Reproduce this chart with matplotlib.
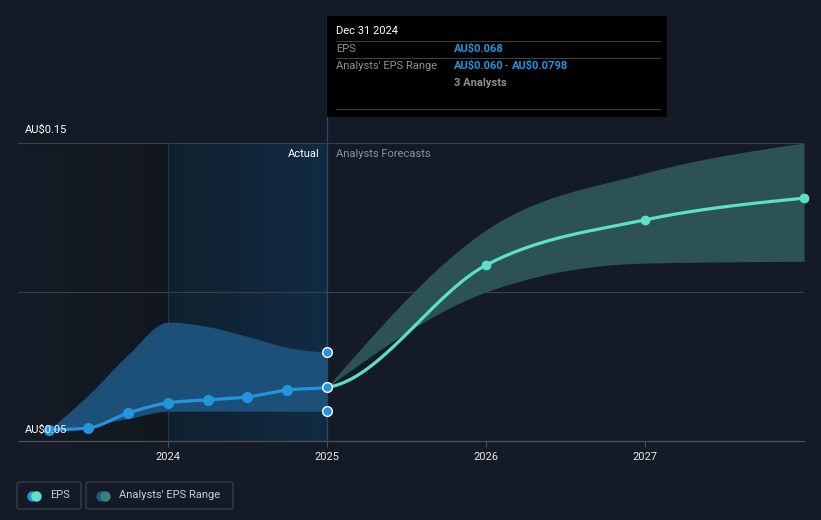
import numpy as np
import matplotlib.pyplot as plt
from matplotlib.colors import LinearSegmentedColormap
from matplotlib.patches import FancyBboxPatch, Rectangle

plt.rcParams['font.family'] = ['Roboto', 'DejaVu Sans']

# EPS history (quarter ends, decimal years) and analyst forecasts
hist_x = [2023.25, 2023.5, 2023.75, 2024.0, 2024.25, 2024.5, 2024.75, 2025.0]
hist_eps = [0.0537, 0.0544, 0.0594, 0.0628, 0.0638, 0.0648, 0.0671, 0.068]
hist_low = [0.0537, 0.0553, 0.0575, 0.0600, 0.0600, 0.0600, 0.0600, 0.0600]
hist_high = [0.0537, 0.0655, 0.0790, 0.0899, 0.0884, 0.0851, 0.0814, 0.0798]

fc_x = [2025.0, 2026.0, 2027.0, 2028.0]
fc_eps = [0.068, 0.109, 0.1242, 0.1315]
fc_low = [0.068, 0.100, 0.1097, 0.1103]
fc_high = [0.068, 0.1208, 0.1399, 0.150]

year_ticks = [2024, 2025, 2026, 2027]

BG = '#151b26'
BLUE = '#2394df'
TEAL = '#5ce0c8'
W, H = 821, 520


def monotone(x, y, n=60):
    # monotone cubic, like d3 curveMonotoneX
    x = np.asarray(x, float)
    y = np.asarray(y, float)
    h = np.diff(x)
    s = np.diff(y) / h
    m = np.zeros(len(x))
    for k in range(1, len(x) - 1):
        p = (s[k - 1] * h[k] + s[k] * h[k - 1]) / (h[k - 1] + h[k])
        m[k] = (np.sign(s[k - 1]) + np.sign(s[k])) * min(abs(s[k - 1]), abs(s[k]), 0.5 * abs(p))
    m[0] = (3 * s[0] - m[1]) / 2
    m[-1] = (3 * s[-1] - m[-2]) / 2
    xs, ys = [], []
    t = np.linspace(0, 1, n)
    for k in range(len(x) - 1):
        h00 = 2 * t**3 - 3 * t**2 + 1
        h10 = t**3 - 2 * t**2 + t
        h01 = -2 * t**3 + 3 * t**2
        h11 = t**3 - t**2
        xs.append(x[k] + t * h[k])
        ys.append(h00 * y[k] + h10 * h[k] * m[k] + h01 * y[k + 1] + h11 * h[k] * m[k + 1])
    return np.concatenate(xs), np.concatenate(ys)


fig = plt.figure(figsize=(8.21, 5.20), dpi=100)
fig.patch.set_facecolor(BG)
ax = fig.add_axes([18 / W, 1 - 441 / H, 786 / W, 298 / H])
ax.set_facecolor(BG)
x0, x1 = 2023.057, 2028.0
ax.set_xlim(x0, x1)
ax.set_ylim(0.05, 0.15)

# shaded backgrounds
grad = np.linspace(0, 1, 256).reshape(1, -1)
cm_left = LinearSegmentedColormap.from_list('l', [BG, '#12171f'])
ax.imshow(grad, cmap=cm_left, extent=[x0, 2024.0, 0.05, 0.15], aspect='auto', zorder=0)
cm_act = LinearSegmentedColormap.from_list('a', ['#10202f', '#122b42'])
ax.imshow(grad, cmap=cm_act, extent=[2024.0, 2025.0, 0.05, 0.15], aspect='auto', zorder=0)

# grid
for v in [0.10, 0.15]:
    ax.axhline(v, color='#3a404a', lw=0.8, zorder=1)
ax.axvline(2024.0, color='#1d3a55', lw=0.8, zorder=1)

# bands
hx, hlo = monotone(hist_x, hist_low)
_, hhi = monotone(hist_x, hist_high)
ax.fill_between(hx, hlo, hhi, color='#1c5078', lw=0, zorder=2)
fx, flo = monotone(fc_x, fc_low)
_, fhi = monotone(fc_x, fc_high)
ax.fill_between(fx, flo, fhi, color='#2d5253', lw=0, zorder=2)

# EPS line drawn as one curve, split at 2025
all_x = hist_x + fc_x[1:]
all_y = hist_eps + fc_eps[1:]
ex, ey = monotone(all_x, all_y)
past = ex <= 2025.0
ax.plot(ex[past], ey[past], color=BLUE, lw=2.3, zorder=4, solid_capstyle='round')
ax.plot(ex[~past], ey[~past], color=TEAL, lw=2.3, zorder=4, solid_capstyle='round')
ax.plot(hist_x[:-1], hist_eps[:-1], 'o', color=BLUE, ms=7, zorder=5)
ax.plot(fc_x[1:], fc_eps[1:], 'o', color=TEAL, ms=6, zorder=5, clip_on=False)

# hovered point markers
ax.plot([2025.0] * 3, [hist_eps[-1], hist_low[-1], hist_high[-1]], 'o', color=BLUE,
        mec='white', mew=1.0, ms=7, zorder=6)
ax.plot([2025.0, 2025.0], [0.05, 0.15 + 127 / 2980], color='#2a4a66', lw=0.9,
        zorder=3, clip_on=False)

# axes styling
for sp in ['top', 'right', 'left']:
    ax.spines[sp].set_visible(False)
ax.spines['bottom'].set_color('#4a505a')
ax.spines['bottom'].set_linewidth(0.9)
ax.set_yticks([])
ax.set_xticks(year_ticks)
ax.set_xticklabels([str(y) for y in year_ticks])
ax.tick_params(axis='x', colors='#4a505a', length=4, width=0.8, pad=4,
               labelcolor='#e6e6e6', labelsize=8)

# y labels
fig.text(25 / W, 1 - 130 / H, 'AU$0.15', color='white', fontsize=8, va='center')
fig.text(25 / W, 1 - 430 / H, 'AU$0.05', color='white', fontsize=8, va='center', zorder=0)

fig.text(320 / W, 1 - 154 / H, 'Actual', color='white', fontsize=8, va='center', ha='right')
fig.text(336 / W, 1 - 154 / H, 'Analysts Forecasts', color='#8b9098', fontsize=8, va='center')

# tooltip
fig.patches.append(Rectangle((327 / W, 1 - 117 / H), 340 / W, 101 / H, transform=fig.transFigure,
                             facecolor='black', edgecolor='none', zorder=10))
fig.text(336 / W, 1 - 31 / H, 'Dec 31 2024', color='white', fontsize=8, va='center', zorder=11)
for yy in [41, 58, 109]:
    fig.add_artist(plt.Line2D([336 / W, 660 / W], [1 - yy / H] * 2, color='#3b3f45', lw=0.8, zorder=11))
fig.text(336 / W, 1 - 49 / H, 'EPS', color='#8b9098', fontsize=8, va='center', zorder=11)
fig.text(454 / W, 1 - 49 / H, 'AU$0.068', color=BLUE, fontsize=8, va='center', zorder=11,
         fontweight='bold')
fig.text(336 / W, 1 - 66 / H, "Analysts' EPS Range", color='#8b9098', fontsize=8, va='center', zorder=11)
fig.text(454 / W, 1 - 66 / H, 'AU$0.060', color=BLUE, fontsize=8, va='center', zorder=11,
         fontweight='bold')
fig.text(505 / W, 1 - 66 / H, '-', color='#8b9098', fontsize=8, va='center', zorder=11)
fig.text(512 / W, 1 - 66 / H, 'AU$0.0798', color=BLUE, fontsize=8, va='center', zorder=11,
         fontweight='bold')
fig.text(454 / W, 1 - 83 / H, '3 Analysts', color='#8b9098', fontsize=8, va='center', zorder=11,
         fontweight='bold')

# legend
legend_items = [('EPS', 17, 81, BLUE, TEAL), ("Analysts' EPS Range", 86, 233, '#1c5a85', '#3f7f7b')]
for label, lx0, lx1, c1, c2 in legend_items:
    fig.patches.append(FancyBboxPatch((lx0 / W, 1 - 509 / H), (lx1 - lx0) / W, 27 / H,
                                      boxstyle='round,pad=0,rounding_size=0.004',
                                      transform=fig.transFigure, facecolor='none',
                                      edgecolor='#3a404a', lw=0.9))
    cy = 1 - 495.5 / H
    fig.add_artist(plt.Line2D([(lx0 + 15) / W], [cy], marker='o', ms=6.5, color=c1, lw=0))
    fig.add_artist(plt.Line2D([(lx0 + 19) / W], [cy], marker='o', ms=6.5, color=c2, lw=0))
    fig.text((lx0 + 33) / W, cy, label, color='#c9cdd2', fontsize=8, va='center')

fig.savefig('out.png', dpi=100, facecolor=BG)
